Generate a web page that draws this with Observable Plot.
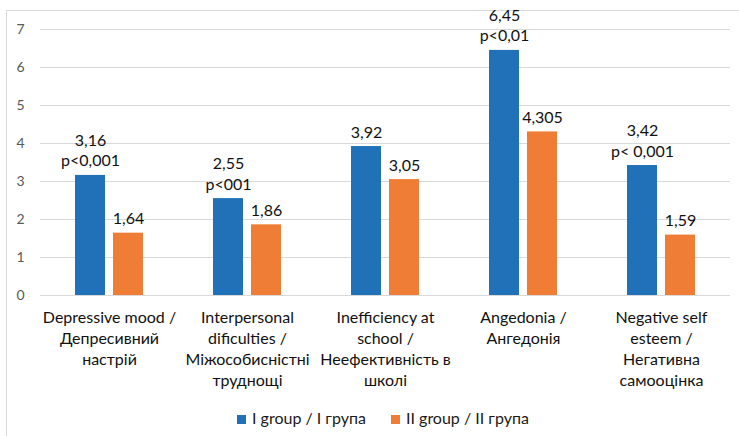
<!DOCTYPE html>
<html><head><meta charset="utf-8">
<script src="https://cdn.jsdelivr.net/npm/d3@7"></script>
<script src="https://cdn.jsdelivr.net/npm/@observablehq/plot@0.6"></script>
<style>
body{margin:0;background:#fff;font-family:Lato,sans-serif;}
#wrap{position:relative;width:739px;height:436px;overflow:hidden;background:#fff;}
#frame{position:absolute;left:6px;top:10px;width:760px;height:460px;border:1px solid #d9d9d9;box-sizing:border-box;}
#chart{position:absolute;left:0;top:0;}
.leg{position:absolute;top:408px;font-size:16px;color:#1a1a1a;white-space:nowrap;line-height:20px;}
.leg span{display:inline-block;width:9px;height:9px;margin-right:6px;vertical-align:0px;}
</style>
</head><body>
<div id="wrap"><div id="frame"></div><div id="chart"></div>
<div id="legend"></div></div>
<script>
const categories = [
  "Depressive mood /\nДепресивний\nнастрій",
  "Interpersonal\ndificulties /\nМіжособисністні\nтруднощі",
  "Inefficiency at\nschool /\nНеефективність в\nшколі",
  "Angedonia /\nАнгедонія",
  "Negative self\nesteem /\nНегативна\nсамооцінка"
];
const seriesNames = ["I group / I група", "II group / II група"];
const seriesKeys = ["I", "II"];
const seriesColors = ["#2171b9", "#ef7d36"];
const group1 = [3.16, 2.55, 3.92, 6.45, 3.42];
const group2 = [1.64, 1.86, 3.05, 4.305, 1.59];
const pLabels1 = ["p<0,001", "p<001", "", "p<0,01", "p< 0,001"];
const yTicks = [0, 1, 2, 3, 4, 5, 6, 7];

const fmt = v => String(v).replace(".", ",");
const rows = [];
categories.forEach((c, i) => {
  rows.push({cat: c, s: "I", v: group1[i], label: fmt(group1[i]) + (pLabels1[i] ? "\n" + pLabels1[i] : "")});
  rows.push({cat: c, s: "II", v: group2[i], label: fmt(group2[i])});
});

const chart = Plot.plot({
  width: 739, height: 400,
  marginLeft: 40, marginRight: 9, marginTop: 29, marginBottom: 105,
  style: {fontFamily: "Lato, sans-serif", fontSize: "16px", color: "#000", background: "transparent"},
  fx: {domain: categories, padding: 0, label: null, axis: null},
  x: {domain: seriesKeys, paddingInner: 0.205, paddingOuter: 0.872, axis: null},
  y: {domain: [0, 7], axis: null},
  color: {domain: seriesKeys, range: seriesColors},
  marks: [
    Plot.gridY(yTicks, {stroke: "#d9d9d9", strokeOpacity: 1, strokeWidth: 1.2}),
    Plot.axisY(yTicks, {tickSize: 0, tickPadding: 16, fontSize: 14, fill: "#595959", label: null}),
    Plot.axisFx({anchor: "bottom", tickSize: 0, tickPadding: 12, fontSize: 16, lineHeight: 1.32, label: null, fill: "#111"}),
    Plot.barY(rows, {fx: "cat", x: "s", y: "v", fill: "s"}),
    Plot.text(rows, {fx: "cat", x: "s", y: "v", text: "label", lineAnchor: "bottom", dy: -9, fontSize: 16, lineHeight: 1.3, fill: "#111"})
  ]
});
document.getElementById("chart").appendChild(chart);

const leg = document.getElementById("legend");
const lefts = [237, 391];
seriesNames.forEach((n, i) => {
  const d = document.createElement("div");
  d.className = "leg";
  d.style.left = lefts[i] + "px";
  d.innerHTML = `<span style="background:${seriesColors[i]}"></span>${n}`;
  leg.appendChild(d);
});
</script>
</body></html>
